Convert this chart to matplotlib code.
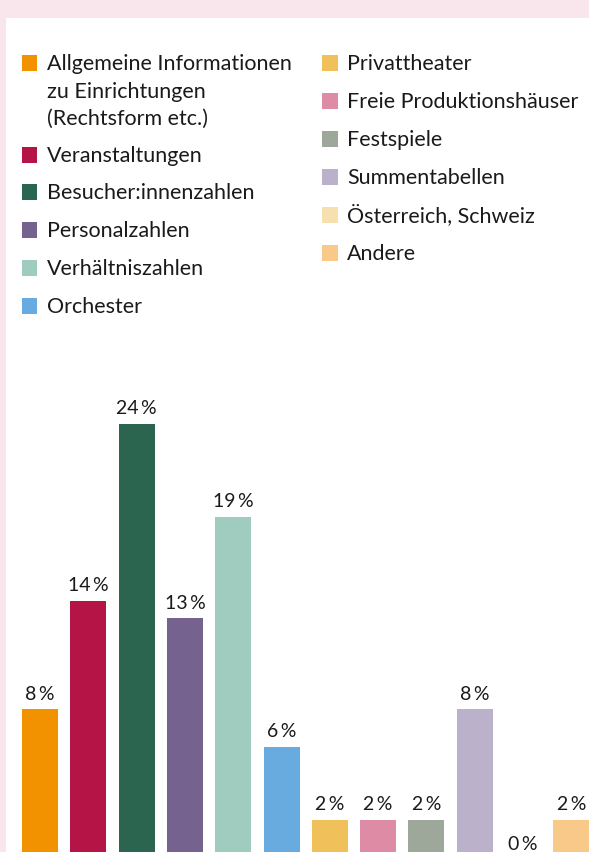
import matplotlib
matplotlib.use("Agg")
import matplotlib.pyplot as plt
from matplotlib.patches import Rectangle

categories = ["Allgemeine Informationen\nzu Einrichtungen\n(Rechtsform etc.)",
              "Veranstaltungen", "Besucher:innenzahlen", "Personalzahlen",
              "Verhältniszahlen", "Orchester", "Privattheater",
              "Freie Produktionshäuser", "Festspiele", "Summentabellen",
              "Österreich, Schweiz", "Andere"]
values = [8.0, 14.1, 24.0, 13.1, 18.8, 5.9, 1.8, 1.8, 1.8, 8.0, 0.0, 1.8]
labels = ["8", "14", "24", "13", "19", "6", "2", "2", "2", "8", "0", "2"]
colors = ["#F39200", "#B41546", "#2B6550", "#76628F", "#A0CBBF", "#68ABDF",
          "#F0C05A", "#DE8CA6", "#9DA89B", "#BBB1CB", "#F7E0B0", "#F9C98A"]

W, H = 589, 852
FONT = ["Lato", "DejaVu Sans"]
TXT = "#1a1a1a"

fig = plt.figure(figsize=(W / 100, H / 100), dpi=100)
fig.patch.set_facecolor("white")

# pink frame (top and left)
pink = "#F9E6EC"
fig.add_artist(Rectangle((0, 1 - 18 / H), 1, 18 / H, transform=fig.transFigure,
                         facecolor=pink, edgecolor="none"))
fig.add_artist(Rectangle((0, 0), 6 / W, 1, transform=fig.transFigure,
                         facecolor=pink, edgecolor="none"))

# bars
step = 48.3
ax = fig.add_axes([0, 0, 1, 472 / H])
ax.set_facecolor("none")
x = list(range(len(values)))
ax.bar(x, values, width=36 / step, color=colors)
for xi, v, lab in zip(x, values, labels):
    ax.annotate(f"{lab}\u2009%", (xi, v), xytext=(0, 7 if v > 0 else 1.5),
                textcoords="offset points", ha="center", va="baseline",
                fontsize=14, color=TXT, family=FONT)
ax.set_xlim((0 - 40) / step, (W - 40) / step)
ax.set_ylim(0, 472 / 17.83)
ax.axis("off")

# legend (manual, two columns)
def px(xp, yp):
    return xp / W, 1 - yp / H

left_rows = [63, 155, 192, 230, 268, 306]
right_rows = [63, 101, 139, 177, 215, 253]
sq = 15.5
for i, cat in enumerate(categories):
    if i < 6:
        xs, yc = 22, left_rows[i]
    else:
        xs, yc = 322, right_rows[i - 6]
    x0, y0 = px(xs, yc + sq / 2)
    fig.add_artist(Rectangle((x0, y0), sq / W, sq / H, transform=fig.transFigure,
                             facecolor=colors[i], edgecolor="none"))
    for k, line in enumerate(cat.split("\n")):
        tx, ty = px(xs + 25, yc + 7 + 27.5 * k)
        fig.text(tx, ty, line, ha="left", va="baseline", fontsize=15.5,
                 color=TXT, family=FONT)

fig.savefig("out.png", dpi=100, facecolor="white")
